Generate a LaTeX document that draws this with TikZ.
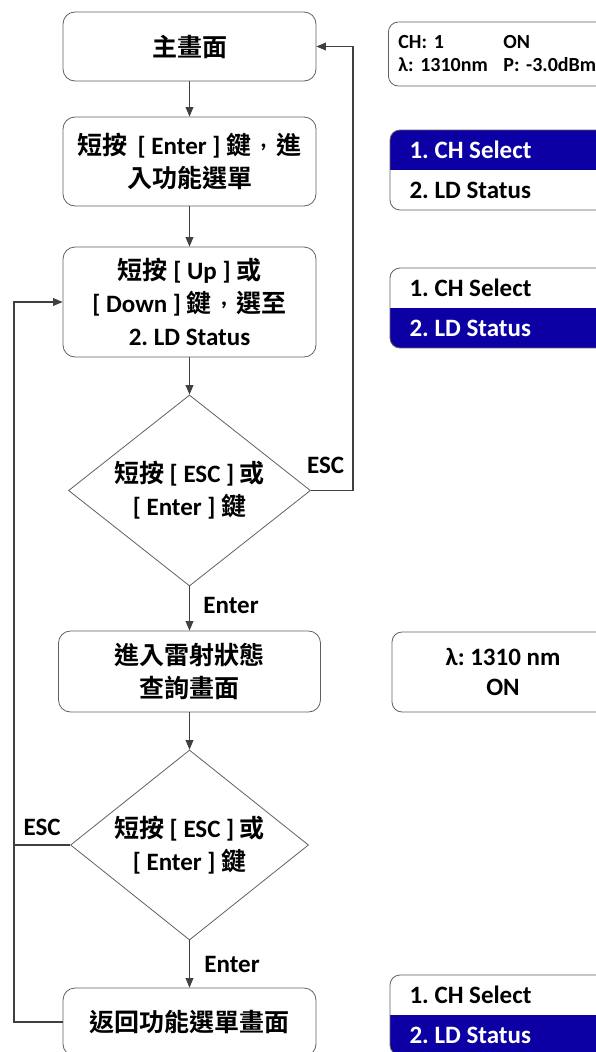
\documentclass[tikz,border=0pt]{standalone}
\usepackage{fontspec}
\setmainfont{Carlito}
\newfontfamily\zh{Noto Sans CJK TC}[UprightFont={* Bold},BoldFont={* Bold}]
\usetikzlibrary{arrows,shapes.geometric}
\definecolor{edgegray}{RGB}{64,64,64}
\definecolor{boxgray}{RGB}{96,96,96}
\definecolor{lcdblue}{RGB}{12,0,165}
\frenchspacing
% Taiwan style comma, centred in its cell
\newcommand\zhcomma{\makebox[1em][c]{\raisebox{0.3em}{\normalfont\bfseries ,}}}

\begin{document}
\begin{tikzpicture}[x=1pt,y=1pt,auto,node distance=120pt,>=triangle 45,
  every node/.style={font=\bfseries\fontsize{25}{33}\selectfont},
  screen/.style={draw=boxgray,line width=0.8pt,rectangle,rounded corners=12pt,minimum width=253pt,align=center,inner sep=0pt},
  choice/.style={draw=boxgray,line width=0.8pt,diamond,aspect=1.27,minimum width=242pt,minimum height=191pt,align=center,inner sep=0pt},
  lcd/.style={draw=boxgray,line width=0.8pt,rectangle,rounded corners=10pt},
  link/.style={draw=edgegray,line width=1.2pt,->}]
\useasboundingbox (0,0) rectangle (596,-1052);

\node[screen,minimum height=69pt] (main) at (189.5,-46.5) {{\zh 主畫面}};
\node[screen,minimum height=89pt] (menu) [below of=main,node distance=115pt] {{\zh 短按}\, [ Enter ] {\zh 鍵\zhcomma 進}\\{\zh 入功能選單}};
\node[screen,minimum height=110pt] (pick) [below of=menu,node distance=140.5pt] {{\zh 短按} [ Up ] {\zh 或}\\{}[ Down ] {\zh 鍵\zhcomma 選至}\\2. LD Status};
\node[choice] (ask1) [below of=pick,node distance=188.5pt] {{\zh 短按} [ ESC ] {\zh 或}\\{}[ Enter ] {\zh 鍵}};
\node[screen,minimum height=81pt,minimum width=262pt] (status) [below of=ask1,node distance=181pt] {{\zh 進入雷射狀態}\\{\zh 查詢畫面}};
\node[choice,minimum width=238pt,minimum height=190pt] (ask2) [below of=status,node distance=173.5pt] {{\zh 短按} [ ESC ] {\zh 或}\\{}[ Enter ] {\zh 鍵}};
\node[screen,minimum height=68pt] (back) [below of=ask2,node distance=177pt] {{\zh 返回功能選單畫面}};

\path (main) edge[link] (menu)
      (menu) edge[link] (pick)
      (pick) edge[link] (ask1)
      (ask1) edge[link] node[xshift=10pt,yshift=3pt] {Enter} (status)
      (status) edge[link] (ask2)
      (ask2) edge[link] node[xshift=11pt] {Enter} (back);

\draw[link] (ask1.east) -- node[above,pos=0.35,yshift=13pt] {ESC} ++(42pt,0) |- (main.east);
\coordinate (rail) at (14,-1022);
\draw[link] (back.west) -- (rail) |- (pick.west);
\draw[draw=edgegray,line width=1.2pt] (ask2.west) -- node[above,yshift=5pt] {ESC} (ask2.west -| rail);

% LCD screens
\node[lcd,anchor=west,minimum height=64pt,text width=220pt,inner xsep=10pt,align=left,
  font=\bfseries\fontsize{20}{23}\selectfont] (lcdhome) at (388,-54)
  {\makebox[105pt][l]{CH: 1}ON\\\makebox[105pt][l]{λ: 1310nm}P: -3.0dBm};
\node[lcd,minimum width=222pt,minimum height=80pt,align=center,
  font=\bfseries\fontsize{25}{30}\selectfont] (lcdstat) at (503,-672) {λ: 1310 nm\\ON};
\foreach \t/\ca/\cb/\yb in {130/white/black/130, 268/black/white/308, 975/black/white/1015} {
  \begin{scope}
    \clip[rounded corners=10pt] (390,-\t) rectangle ++(240,-80);
    \fill[lcdblue] (390,-\yb) rectangle ++(240,-40);
  \end{scope}
  \draw[boxgray,line width=0.8pt,rounded corners=10pt] (390,-\t) rectangle ++(240,-80);
  \node[anchor=west,text=\ca] (lcd\t-a) at (406,-\t-20) {1. CH Select};
  \node[anchor=west,text=\cb] (lcd\t-b) at (406,-\t-60) {2. LD Status};
}
\end{tikzpicture}
\end{document}
